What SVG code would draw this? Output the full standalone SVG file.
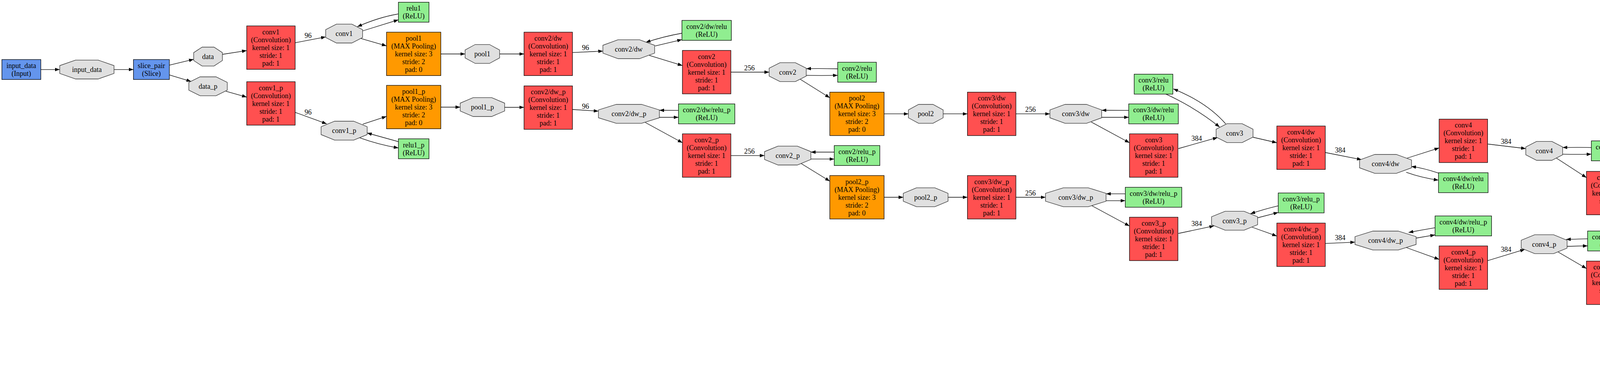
<svg xmlns="http://www.w3.org/2000/svg" width="5525" height="936" viewBox="0 0 5525 936">
<defs>
<style>
.t{font-family:"Liberation Serif","Times New Roman",serif;font-size:18px;text-anchor:middle;fill:#000}
.conv{fill:#FF5050;stroke:#000;stroke-width:1.3}
.pool{fill:#FF9900;stroke:#000;stroke-width:1.3}
.relu{fill:#90EE90;stroke:#000;stroke-width:1.3}
.blue{fill:#6495ED;stroke:#000;stroke-width:1.3}
.blob{fill:#E0E0E0;stroke:#333;stroke-width:1.3}
.out{fill:#fff;stroke:#000;stroke-width:1.3}
.e{fill:none;stroke:#000;stroke-width:1.3;marker-end:url(#ah)}
</style>
<marker id="ah" markerWidth="13" markerHeight="10" refX="12" refY="5" orient="auto" markerUnits="userSpaceOnUse"><path d="M0,0.6 L12,5 L0,9.4 Z" fill="#000"/></marker>
</defs>
<rect width="5525" height="936" fill="#fff"/>

<g id="edges">
<path class="e" d="M104.5,177.8 L152.9,177.8"/>
<path class="e" d="M291.9,177.8 L341.6,177.8"/>
<path class="e" d="M433.6,166.7 L495.8,151.7"/>
<path class="e" d="M433.6,191.7 L489.3,208.3"/>
<path class="e" d="M569.4,139 L631.6,129.3"/>
<path class="e" d="M578.3,233.3 L631.6,248.3"/>
<path class="e" d="M755.6,109.3 L833.9,94.3"/>
<path class="e" d="M755.6,287.3 L836.3,316.7"/>
<path class="e" d="M1019.9,35.7 Q970,44 914.8,68.3"/>
<path class="e" d="M928.5,79 L1019.9,50.7"/>
<path class="e" d="M923.7,98.3 L989.5,117.3"/>
<path class="e" d="M1128.5,138 L1190.6,138"/>
<path class="e" d="M1279,138 L1341.5,138"/>
<path class="e" d="M1465.5,134.3 L1543.5,130.7"/>
<path class="e" d="M1745.7,85 Q1700,93 1653.2,108.3"/>
<path class="e" d="M1677,117.7 L1745.7,101.3"/>
<path class="e" d="M1662.1,141.7 L1747,167.7"/>
<path class="e" d="M928.5,317.7 L989.5,297.7"/>
<path class="e" d="M1019.9,362.3 L939.7,340"/>
<path class="e" d="M920.8,352.3 Q970,370 1019.9,378.3"/>
<path class="e" d="M1128.5,274 L1178.1,274"/>
<path class="e" d="M1291.9,274.5 L1341.5,274.5"/>
<path class="e" d="M1465.5,280 L1532,284.3"/>
<path class="e" d="M1736.9,282.3 L1688,282"/>
<path class="e" d="M1688,300 L1736.9,300"/>
<path class="e" d="M1652,313.3 L1747,365"/>
<path class="e" d="M1871,184.5 L1969,184.5"/>
<path class="e" d="M2144.5,176 Q2100,175 2064,175.7"/>
<path class="e" d="M2064,192.7 Q2100,193.5 2144.5,192.7"/>
<path class="e" d="M2047.9,202.3 L2124.3,250"/>
<path class="e" d="M2263.3,291.2 L2325.5,291.2"/>
<path class="e" d="M2414.5,291.2 L2476.7,291.2"/>
<path class="e" d="M2600.7,291.2 L2687.7,291.2"/>
<path class="e" d="M1871,397.8 L1957.2,397.8"/>
<path class="e" d="M2135.6,389 L2075.8,389"/>
<path class="e" d="M2075.8,406.7 L2135.6,406.7"/>
<path class="e" d="M2050.2,417.7 L2124.3,463.3"/>
<path class="e" d="M2263.3,504.5 L2312.4,504.5"/>
<path class="e" d="M2427,504.5 L2476.7,504.5"/>
<path class="e" d="M2600.7,504.5 L2676.5,504.5"/>
<path class="e" d="M2889.5,282.3 L2820.3,282"/>
<path class="e" d="M2820.3,300 L2889.5,300"/>
<path class="e" d="M2793.1,311.7 L2891.5,365"/>
<path class="e" d="M3016.7,380 L3117,351.7"/>
<path class="e" d="M2984.7,240.7 Q3060,275 3122.3,325"/>
<path class="e" d="M3137.7,316.7 Q3090,262 3003.7,227.3"/>
<path class="e" d="M3207.7,351 L3268.7,365"/>
<path class="e" d="M3392.7,390 L3485.8,408.3"/>
<path class="e" d="M3600.3,405 L3684.2,378.3"/>
<path class="e" d="M3682.5,442.7 Q3645,430 3613,425.7"/>
<path class="e" d="M3600,440.7 Q3640,455 3682.5,460.7"/>
<path class="e" d="M3808.2,368.3 L3906,380"/>
<path class="e" d="M4073.9,377.3 Q4040,376.5 4000.4,377.3"/>
<path class="e" d="M4000.4,394.3 Q4040,395 4073.9,394.3"/>
<path class="e" d="M3984.3,404.3 L4061.4,454.3"/>
<path class="e" d="M4185.4,493.8 L4273.2,493.8"/>
<path class="e" d="M4475.4,485 L4405.4,485"/>
<path class="e" d="M4405.4,502.7 L4475.4,502.7"/>
<path class="e" d="M4378.1,514.3 L4477,567.7"/>
<path class="e" d="M2880.7,495.7 L2831.5,495.7"/>
<path class="e" d="M2831.5,513.3 L2880.7,513.3"/>
<path class="e" d="M2794.9,526 L2891.5,578"/>
<path class="e" d="M3016.7,597 L3108,577.7"/>
<path class="e" d="M3272.3,526.3 Q3235,535 3201.2,546.7"/>
<path class="e" d="M3219.5,557 L3272.3,543.3"/>
<path class="e" d="M3205.3,581 L3268.7,603.7"/>
<path class="e" d="M3392.7,622.7 L3468.7,619.3"/>
<path class="e" d="M3673.7,582.3 Q3640,588 3606,594.5"/>
<path class="e" d="M3625,609 L3673.7,600.7"/>
<path class="e" d="M3597,632 L3684.2,663.3"/>
<path class="e" d="M3808.2,666.7 L3903.7,637.7"/>
<path class="e" d="M4064.3,610.7 L4009.2,612.3"/>
<path class="e" d="M4011.7,630 L4064.3,628.7"/>
<path class="e" d="M3988.5,644.3 L4061.4,686.7"/>
<path class="e" d="M4185.4,722.7 L4261.3,722.7"/>
<path class="e" d="M4466.5,713 L4417.3,713"/>
<path class="e" d="M4417.3,730.7 L4466.5,730.7"/>
<path class="e" d="M4379.9,743.7 L4477,796"/>
<path class="e" d="M4601,600.7 L4697.9,600.7"/>
<path class="e" d="M4869.3,592 Q4830,591 4793.5,592"/>
<path class="e" d="M4793.5,608.7 Q4830,610 4869.3,609.3"/>
<path class="e" d="M4782.4,616.7 L4869.3,655.3"/>
<path class="e" d="M4968,677 L5045.8,678"/>
<path class="e" d="M5165.5,696.7 L5250.4,727.7"/>
<path class="e" d="M4983,752.5 L5079.1,752.5"/>
<path class="e" d="M5151.7,752.5 L5247.2,752.5"/>
<path class="e" d="M5398.2,752.5 L5447.9,752.5"/>
<path class="e" d="M4601,828.7 L4686.9,828.7"/>
<path class="e" d="M4860.2,819.7 L4804.7,819.7"/>
<path class="e" d="M4804.7,837 L4860.2,837"/>
<path class="e" d="M4787.6,846.7 L4860.2,879.3"/>
<path class="e" d="M4977.9,886 L5058.9,860.3"/>
<path class="e" d="M5163.5,824.3 L5264.8,778"/>
<text class="t" x="788.8" y="96.7">96</text>
<text class="t" x="788.8" y="292.7">96</text>
<text class="t" x="1499" y="128.3">96</text>
<text class="t" x="1499" y="278.3">96</text>
<text class="t" x="1918.6" y="180">256</text>
<text class="t" x="1918.6" y="393.3">256</text>
<text class="t" x="2638" y="286">256</text>
<text class="t" x="2638" y="500.3">256</text>
<text class="t" x="3063.6" y="360">384</text>
<text class="t" x="3063.6" y="578.3">384</text>
<text class="t" x="3430.7" y="390.3">384</text>
<text class="t" x="3430.7" y="614.3">384</text>
<text class="t" x="3855.6" y="368.3">384</text>
<text class="t" x="3855.6" y="644.3">384</text>
<text class="t" x="4223.3" y="489.3">384</text>
<text class="t" x="4223.3" y="717.7">384</text>
<text class="t" x="4648.4" y="596.3">256</text>
<text class="t" x="4648.4" y="824.3">256</text>
</g>

<g id="input_data_layer"><rect class="blue" x="4.8" y="152.3" width="99.7" height="51"/><text class="t"><tspan x="54.6" y="173.8">input_data</tspan><tspan x="54.6" dy="20">(Input)</tspan></text></g>
<g id="input_data_blob"><polygon class="blob" points="193.6,153.6 251.2,153.6 291.9,167.8 291.9,187.8 251.2,202 193.6,202 152.9,187.8 152.9,167.8"/><text class="t" x="222.4" y="183.8">input_data</text></g>
<g id="slice_pair"><rect class="blue" x="341.6" y="152.3" width="92" height="51"/><text class="t"><tspan x="387.6" y="173.8">slice_pair</tspan><tspan x="387.6" dy="20">(Slice)</tspan></text></g>
<g id="data_blob"><polygon class="blob" points="517.4,120.5 547.8,120.5 569.4,134.7 569.4,154.7 547.8,168.9 517.4,168.9 495.8,154.7 495.8,134.7"/><text class="t" x="532.6" y="150.7">data</text></g>
<g id="data_p_blob"><polygon class="blob" points="512.2,196.5 553,196.5 581.8,210.7 581.8,230.7 553,244.9 512.2,244.9 483.4,230.7 483.4,210.7"/><text class="t" x="532.6" y="226.7">data_p</text></g>

<g id="conv1_layer"><rect class="conv" x="631.6" y="66.3" width="124" height="111"/><text class="t"><tspan x="693.6" y="87.8">conv1</tspan><tspan x="693.6" dy="20">(Convolution)</tspan><tspan x="693.6" dy="20">kernel size: 1</tspan><tspan x="693.6" dy="20">stride: 1</tspan><tspan x="693.6" dy="20">pad: 1</tspan></text></g>
<g id="conv1_p_layer"><rect class="conv" x="631.6" y="209" width="124" height="111"/><text class="t"><tspan x="693.6" y="230.5">conv1_p</tspan><tspan x="693.6" dy="20">(Convolution)</tspan><tspan x="693.6" dy="20">kernel size: 1</tspan><tspan x="693.6" dy="20">stride: 1</tspan><tspan x="693.6" dy="20">pad: 1</tspan></text></g>
<g id="conv1_blob"><polygon class="blob" points="861.4,61.6 900.6,61.6 928.3,75.8 928.3,95.8 900.6,110 861.4,110 833.7,95.8 833.7,75.8"/><text class="t" x="881" y="91.8">conv1</text></g>
<g id="conv1_p_blob"><polygon class="blob" points="856.6,310 905.4,310 940,324.2 940,344.2 905.4,358.4 856.6,358.4 822,344.2 822,324.2"/><text class="t" x="881" y="340.2">conv1_p</text></g>
<g id="relu1"><rect class="relu" x="1019.9" y="5.7" width="78.3" height="51"/><text class="t"><tspan x="1059" y="27.2">relu1</tspan><tspan x="1059" dy="20">(ReLU)</tspan></text></g>
<g id="relu1_p"><rect class="relu" x="1019.9" y="355" width="78.3" height="51"/><text class="t"><tspan x="1059" y="376.5">relu1_p</tspan><tspan x="1059" dy="20">(ReLU)</tspan></text></g>
<g id="pool1_layer"><rect class="pool" x="989.5" y="82.3" width="139" height="111"/><text class="t"><tspan x="1059" y="103.8">pool1</tspan><tspan x="1059" dy="20">(MAX Pooling)</tspan><tspan x="1059" dy="20">kernel size: 3</tspan><tspan x="1059" dy="20">stride: 2</tspan><tspan x="1059" dy="20">pad: 0</tspan></text></g>
<g id="pool1_p_layer"><rect class="pool" x="989.5" y="218.3" width="139" height="111"/><text class="t"><tspan x="1059" y="239.8">pool1_p</tspan><tspan x="1059" dy="20">(MAX Pooling)</tspan><tspan x="1059" dy="20">kernel size: 3</tspan><tspan x="1059" dy="20">stride: 2</tspan><tspan x="1059" dy="20">pad: 0</tspan></text></g>
<g id="pool1_blob"><polygon class="blob" points="1216.5,113.8 1253.1,113.8 1279,128 1279,148 1253.1,162.2 1216.5,162.2 1190.6,148 1190.6,128"/><text class="t" x="1234.8" y="144">pool1</text></g>
<g id="pool1_p_blob"><polygon class="blob" points="1211.4,249.6 1258.6,249.6 1291.9,263.8 1291.9,283.8 1258.6,298 1211.4,298 1178.1,283.8 1178.1,263.8"/><text class="t" x="1235" y="279.8">pool1_p</text></g>

<g id="conv2_dw_layer"><rect class="conv" x="1341.5" y="82.3" width="124" height="111"/><text class="t"><tspan x="1403.5" y="103.8">conv2/dw</tspan><tspan x="1403.5" dy="20">(Convolution)</tspan><tspan x="1403.5" dy="20">kernel size: 1</tspan><tspan x="1403.5" dy="20">stride: 1</tspan><tspan x="1403.5" dy="20">pad: 1</tspan></text></g>
<g id="conv2_dw_p_layer"><rect class="conv" x="1341.5" y="219.7" width="124" height="111"/><text class="t"><tspan x="1403.5" y="241.2">conv2/dw_p</tspan><tspan x="1403.5" dy="20">(Convolution)</tspan><tspan x="1403.5" dy="20">kernel size: 1</tspan><tspan x="1403.5" dy="20">stride: 1</tspan><tspan x="1403.5" dy="20">pad: 1</tspan></text></g>
<g id="conv2_dw_blob"><polygon class="blob" points="1582.2,101.6 1637,101.6 1675.8,115.8 1675.8,135.8 1637,150 1582.2,150 1543.4,135.8 1543.4,115.8"/><text class="t" x="1609.6" y="131.8">conv2/dw</text></g>
<g id="conv2_dw_p_blob"><polygon class="blob" points="1577.7,267 1642.3,267 1688,281.2 1688,301.2 1642.3,315.4 1577.7,315.4 1532,301.2 1532,281.2"/><text class="t" x="1610" y="297.2">conv2/dw_p</text></g>
<g id="conv2_dw_relu"><rect class="relu" x="1745.7" y="52.2" width="126.6" height="51"/><text class="t"><tspan x="1809" y="73.7">conv2/dw/relu</tspan><tspan x="1809" dy="20">(ReLU)</tspan></text></g>
<g id="conv2_dw_relu_p"><rect class="relu" x="1736.9" y="265.7" width="144.3" height="51"/><text class="t"><tspan x="1809" y="287.2">conv2/dw/relu_p</tspan><tspan x="1809" dy="20">(ReLU)</tspan></text></g>
<g id="conv2_layer"><rect class="conv" x="1747" y="129" width="124" height="111"/><text class="t"><tspan x="1809" y="150.5">conv2</tspan><tspan x="1809" dy="20">(Convolution)</tspan><tspan x="1809" dy="20">kernel size: 1</tspan><tspan x="1809" dy="20">stride: 1</tspan><tspan x="1809" dy="20">pad: 1</tspan></text></g>
<g id="conv2_p_layer"><rect class="conv" x="1747" y="342.3" width="124" height="111"/><text class="t"><tspan x="1809" y="363.8">conv2_p</tspan><tspan x="1809" dy="20">(Convolution)</tspan><tspan x="1809" dy="20">kernel size: 1</tspan><tspan x="1809" dy="20">stride: 1</tspan><tspan x="1809" dy="20">pad: 1</tspan></text></g>
<g id="conv2_blob"><polygon class="blob" points="1996.8,160.3 2036.2,160.3 2064,174.5 2064,194.5 2036.2,208.7 1996.8,208.7 1969,194.5 1969,174.5"/><text class="t" x="2016.5" y="190.5">conv2</text></g>
<g id="conv2_p_blob"><polygon class="blob" points="1991.9,373.6 2041.1,373.6 2075.8,387.8 2075.8,407.8 2041.1,422 1991.9,422 1957.2,407.8 1957.2,387.8"/><text class="t" x="2016.5" y="403.8">conv2_p</text></g>
<g id="conv2_relu"><rect class="relu" x="2144.5" y="159.2" width="99" height="51"/><text class="t"><tspan x="2194" y="180.7">conv2/relu</tspan><tspan x="2194" dy="20">(ReLU)</tspan></text></g>
<g id="conv2_relu_p"><rect class="relu" x="2135.6" y="372.3" width="116.8" height="51"/><text class="t"><tspan x="2194" y="393.8">conv2/relu_p</tspan><tspan x="2194" dy="20">(ReLU)</tspan></text></g>
<g id="pool2_layer"><rect class="pool" x="2124.3" y="235.7" width="139" height="111"/><text class="t"><tspan x="2193.8" y="257.2">pool2</tspan><tspan x="2193.8" dy="20">(MAX Pooling)</tspan><tspan x="2193.8" dy="20">kernel size: 3</tspan><tspan x="2193.8" dy="20">stride: 2</tspan><tspan x="2193.8" dy="20">pad: 0</tspan></text></g>
<g id="pool2_p_layer"><rect class="pool" x="2124.3" y="449" width="139" height="111"/><text class="t"><tspan x="2193.8" y="470.5">pool2_p</tspan><tspan x="2193.8" dy="20">(MAX Pooling)</tspan><tspan x="2193.8" dy="20">kernel size: 3</tspan><tspan x="2193.8" dy="20">stride: 2</tspan><tspan x="2193.8" dy="20">pad: 0</tspan></text></g>
<g id="pool2_blob"><polygon class="blob" points="2351.6,267 2388.4,267 2414.5,281.2 2414.5,301.2 2388.4,315.4 2351.6,315.4 2325.5,301.2 2325.5,281.2"/><text class="t" x="2370" y="297.2">pool2</text></g>
<g id="pool2_p_blob"><polygon class="blob" points="2346,480.3 2393.4,480.3 2427,494.5 2427,514.5 2393.4,528.7 2346,528.7 2312.4,514.5 2312.4,494.5"/><text class="t" x="2369.7" y="510.5">pool2_p</text></g>

<g id="conv3_dw_layer"><rect class="conv" x="2476.7" y="235.7" width="124" height="111"/><text class="t"><tspan x="2538.7" y="257.2">conv3/dw</tspan><tspan x="2538.7" dy="20">(Convolution)</tspan><tspan x="2538.7" dy="20">kernel size: 1</tspan><tspan x="2538.7" dy="20">stride: 1</tspan><tspan x="2538.7" dy="20">pad: 1</tspan></text></g>
<g id="conv3_dw_p_layer"><rect class="conv" x="2476.7" y="449" width="124" height="111"/><text class="t"><tspan x="2538.7" y="470.5">conv3/dw_p</tspan><tspan x="2538.7" dy="20">(Convolution)</tspan><tspan x="2538.7" dy="20">kernel size: 1</tspan><tspan x="2538.7" dy="20">stride: 1</tspan><tspan x="2538.7" dy="20">pad: 1</tspan></text></g>
<g id="conv3_dw_blob"><polygon class="blob" points="2726.6,267 2781.4,267 2820.3,281.2 2820.3,301.2 2781.4,315.4 2726.6,315.4 2687.7,301.2 2687.7,281.2"/><text class="t" x="2754" y="297.2">conv3/dw</text></g>
<g id="conv3_dw_p_blob"><polygon class="blob" points="2721.9,480.3 2786.1,480.3 2831.5,494.5 2831.5,514.5 2786.1,528.7 2721.9,528.7 2676.5,514.5 2676.5,494.5"/><text class="t" x="2754" y="510.5">conv3/dw_p</text></g>
<g id="conv3_relu"><rect class="relu" x="2903.5" y="189.7" width="99" height="51"/><text class="t"><tspan x="2953" y="211.2">conv3/relu</tspan><tspan x="2953" dy="20">(ReLU)</tspan></text></g>
<g id="conv3_dw_relu"><rect class="relu" x="2889.5" y="265.7" width="127" height="51"/><text class="t"><tspan x="2953" y="287.2">conv3/dw/relu</tspan><tspan x="2953" dy="20">(ReLU)</tspan></text></g>
<g id="conv3_dw_relu_p"><rect class="relu" x="2880.7" y="479" width="144.7" height="51"/><text class="t"><tspan x="2953" y="500.5">conv3/dw/relu_p</tspan><tspan x="2953" dy="20">(ReLU)</tspan></text></g>
<g id="conv3_layer"><rect class="conv" x="2891.5" y="342.3" width="124" height="111"/><text class="t"><tspan x="2953.5" y="363.8">conv3</tspan><tspan x="2953.5" dy="20">(Convolution)</tspan><tspan x="2953.5" dy="20">kernel size: 1</tspan><tspan x="2953.5" dy="20">stride: 1</tspan><tspan x="2953.5" dy="20">pad: 1</tspan></text></g>
<g id="conv3_p_layer"><rect class="conv" x="2891.5" y="555.5" width="124" height="111"/><text class="t"><tspan x="2953.5" y="577">conv3_p</tspan><tspan x="2953.5" dy="20">(Convolution)</tspan><tspan x="2953.5" dy="20">kernel size: 1</tspan><tspan x="2953.5" dy="20">stride: 1</tspan><tspan x="2953.5" dy="20">pad: 1</tspan></text></g>
<g id="conv3_blob"><polygon class="blob" points="3141,316.3 3180,316.3 3207.7,330.5 3207.7,350.5 3180,364.7 3141,364.7 3113.3,350.5 3113.3,330.5"/><text class="t" x="3160.5" y="346.5">conv3</text></g>
<g id="conv3_p_blob"><polygon class="blob" points="3136.1,540.3 3184.9,540.3 3219.5,554.5 3219.5,574.5 3184.9,588.7 3136.1,588.7 3101.5,574.5 3101.5,554.5"/><text class="t" x="3160.5" y="570.5">conv3_p</text></g>
<g id="conv3_relu_p"><rect class="relu" x="3272.3" y="493.5" width="117.4" height="51"/><text class="t"><tspan x="3331" y="515">conv3/relu_p</tspan><tspan x="3331" dy="20">(ReLU)</tspan></text></g>

<g id="conv4_dw_layer"><rect class="conv" x="3268.7" y="322.3" width="124" height="111"/><text class="t"><tspan x="3330.7" y="343.8">conv4/dw</tspan><tspan x="3330.7" dy="20">(Convolution)</tspan><tspan x="3330.7" dy="20">kernel size: 1</tspan><tspan x="3330.7" dy="20">stride: 1</tspan><tspan x="3330.7" dy="20">pad: 1</tspan></text></g>
<g id="conv4_dw_p_layer"><rect class="conv" x="3268.7" y="570.5" width="124" height="111"/><text class="t"><tspan x="3330.7" y="592">conv4/dw_p</tspan><tspan x="3330.7" dy="20">(Convolution)</tspan><tspan x="3330.7" dy="20">kernel size: 1</tspan><tspan x="3330.7" dy="20">stride: 1</tspan><tspan x="3330.7" dy="20">pad: 1</tspan></text></g>
<g id="conv4_dw_blob"><polygon class="blob" points="3519.5,395 3574.5,395 3613.5,409.2 3613.5,429.2 3574.5,443.4 3519.5,443.4 3480.5,429.2 3480.5,409.2"/><text class="t" x="3547" y="425.2">conv4/dw</text></g>
<g id="conv4_dw_p_blob"><polygon class="blob" points="3514.6,591 3579.4,591 3625.3,605.2 3625.3,625.2 3579.4,639.4 3514.6,639.4 3468.7,625.2 3468.7,605.2"/><text class="t" x="3547" y="621.2">conv4/dw_p</text></g>
<g id="conv4_layer"><rect class="conv" x="3684.2" y="304.7" width="124" height="111"/><text class="t"><tspan x="3746.2" y="326.2">conv4</tspan><tspan x="3746.2" dy="20">(Convolution)</tspan><tspan x="3746.2" dy="20">kernel size: 1</tspan><tspan x="3746.2" dy="20">stride: 1</tspan><tspan x="3746.2" dy="20">pad: 1</tspan></text></g>
<g id="conv4_p_layer"><rect class="conv" x="3684.2" y="629" width="124" height="111"/><text class="t"><tspan x="3746.2" y="650.5">conv4_p</tspan><tspan x="3746.2" dy="20">(Convolution)</tspan><tspan x="3746.2" dy="20">kernel size: 1</tspan><tspan x="3746.2" dy="20">stride: 1</tspan><tspan x="3746.2" dy="20">pad: 1</tspan></text></g>
<g id="conv4_dw_relu"><rect class="relu" x="3682.5" y="441.7" width="127" height="51"/><text class="t"><tspan x="3746" y="463.2">conv4/dw/relu</tspan><tspan x="3746" dy="20">(ReLU)</tspan></text></g>
<g id="conv4_dw_relu_p"><rect class="relu" x="3673.7" y="552.3" width="144.7" height="51"/><text class="t"><tspan x="3746" y="573.8">conv4/dw/relu_p</tspan><tspan x="3746" dy="20">(ReLU)</tspan></text></g>
<g id="conv4_blob"><polygon class="blob" points="3933.7,361.6 3972.7,361.6 4000.4,375.8 4000.4,395.8 3972.7,410 3933.7,410 3906,395.8 3906,375.8"/><text class="t" x="3953.2" y="391.8">conv4</text></g>
<g id="conv4_p_blob"><polygon class="blob" points="3928.7,600.3 3977.3,600.3 4011.7,614.5 4011.7,634.5 3977.3,648.7 3928.7,648.7 3894.3,634.5 3894.3,614.5"/><text class="t" x="3953" y="630.5">conv4_p</text></g>
<g id="conv4_relu"><rect class="relu" x="4073.9" y="360.3" width="99" height="51"/><text class="t"><tspan x="4123.4" y="381.8">conv4/relu</tspan><tspan x="4123.4" dy="20">(ReLU)</tspan></text></g>
<g id="conv4_relu_p"><rect class="relu" x="4064.3" y="590.8" width="117.4" height="51"/><text class="t"><tspan x="4123" y="612.3">conv4/relu_p</tspan><tspan x="4123" dy="20">(ReLU)</tspan></text></g>

<g id="conv5_dw_layer"><rect class="conv" x="4061.4" y="438.3" width="124" height="111"/><text class="t"><tspan x="4123.4" y="459.8">conv5/dw</tspan><tspan x="4123.4" dy="20">(Convolution)</tspan><tspan x="4123.4" dy="20">kernel size: 1</tspan><tspan x="4123.4" dy="20">stride: 1</tspan><tspan x="4123.4" dy="20">pad: 1</tspan></text></g>
<g id="conv5_dw_p_layer"><rect class="conv" x="4061.4" y="667.7" width="124" height="111"/><text class="t"><tspan x="4123.4" y="689.2">conv5/dw_p</tspan><tspan x="4123.4" dy="20">(Convolution)</tspan><tspan x="4123.4" dy="20">kernel size: 1</tspan><tspan x="4123.4" dy="20">stride: 1</tspan><tspan x="4123.4" dy="20">pad: 1</tspan></text></g>
<g id="conv5_dw_blob"><polygon class="blob" points="4311.9,469.6 4366.7,469.6 4405.4,483.8 4405.4,503.8 4366.7,518 4311.9,518 4273.2,503.8 4273.2,483.8"/><text class="t" x="4339.3" y="499.8">conv5/dw</text></g>
<g id="conv5_dw_p_blob"><polygon class="blob" points="4307,697.6 4371.6,697.6 4417.3,711.8 4417.3,731.8 4371.6,746 4307,746 4261.3,731.8 4261.3,711.8"/><text class="t" x="4339.3" y="727.8">conv5/dw_p</text></g>
<g id="conv5_dw_relu"><rect class="relu" x="4475.4" y="468.5" width="127.2" height="51"/><text class="t"><tspan x="4539" y="490">conv5/dw/relu</tspan><tspan x="4539" dy="20">(ReLU)</tspan></text></g>
<g id="conv5_dw_relu_p"><rect class="relu" x="4466.5" y="696.3" width="144" height="51"/><text class="t"><tspan x="4538.5" y="717.8">conv5/dw/relu_p</tspan><tspan x="4538.5" dy="20">(ReLU)</tspan></text></g>
<g id="conv5_layer"><rect class="conv" x="4477" y="545" width="124" height="111"/><text class="t"><tspan x="4539" y="566.5">conv5</tspan><tspan x="4539" dy="20">(Convolution)</tspan><tspan x="4539" dy="20">kernel size: 1</tspan><tspan x="4539" dy="20">stride: 1</tspan><tspan x="4539" dy="20">pad: 1</tspan></text></g>
<g id="conv5_p_layer"><rect class="conv" x="4477" y="773" width="124" height="111"/><text class="t"><tspan x="4539" y="794.5">conv5_p</tspan><tspan x="4539" dy="20">(Convolution)</tspan><tspan x="4539" dy="20">kernel size: 1</tspan><tspan x="4539" dy="20">stride: 1</tspan><tspan x="4539" dy="20">pad: 1</tspan></text></g>
<g id="conv5_blob"><polygon class="blob" points="4725.9,576.3 4765.5,576.3 4793.5,590.5 4793.5,610.5 4765.5,624.7 4725.9,624.7 4697.9,610.5 4697.9,590.5"/><text class="t" x="4745.7" y="606.5">conv5</text></g>
<g id="conv5_p_blob"><polygon class="blob" points="4721.4,804.3 4770.2,804.3 4804.7,818.5 4804.7,838.5 4770.2,852.7 4721.4,852.7 4686.9,838.5 4686.9,818.5"/><text class="t" x="4745.8" y="834.5">conv5_p</text></g>
<g id="conv5_relu"><rect class="relu" x="4869.3" y="574.8" width="98.7" height="51"/><text class="t"><tspan x="4918.6" y="596.3">conv5/relu</tspan><tspan x="4918.6" dy="20">(ReLU)</tspan></text></g>
<g id="conv5_relu_p"><rect class="relu" x="4860.2" y="802.8" width="117.7" height="51"/><text class="t"><tspan x="4919" y="824.3">conv5/relu_p</tspan><tspan x="4919" dy="20">(ReLU)</tspan></text></g>
<g id="conv5_flat_layer"><rect class="blue" x="4869.3" y="651.3" width="98.7" height="51"/><text class="t"><tspan x="4918.6" y="672.8">conv5_flat</tspan><tspan x="4918.6" dy="20">(Flatten)</tspan></text></g>
<g id="conv5_flat_p_layer"><rect class="blue" x="4860.2" y="879" width="117.7" height="51"/><text class="t"><tspan x="4919" y="900.5">conv5_flat_p</tspan><tspan x="4919" dy="20">(Flatten)</tspan></text></g>
<g id="sim_layer"><rect class="blue" x="4854.2" y="727" width="128.8" height="51"/><text class="t"><tspan x="4918.6" y="748.5">sim</tspan><tspan x="4918.6" dy="20">(DummyData)</tspan></text></g>
<g id="conv5_flat_blob"><polygon class="blob" points="5086.6,655 5144.2,655 5185,669.2 5185,689.2 5144.2,703.4 5086.6,703.4 5045.8,689.2 5045.8,669.2"/><text class="t" x="5115.4" y="685.2">conv5_flat</text></g>
<g id="conv5_flat_p_blob"><polygon class="blob" points="5081.1,820.3 5149.3,820.3 5197.6,834.5 5197.6,854.5 5149.3,868.7 5081.1,868.7 5032.8,854.5 5032.8,834.5"/><text class="t" x="5115.2" y="850.5">conv5_flat_p</text></g>
<g id="sim_blob"><polygon class="blob" points="5100.4,728.3 5130.4,728.3 5151.7,742.5 5151.7,762.5 5130.4,776.7 5100.4,776.7 5079.1,762.5 5079.1,742.5"/><text class="t" x="5115.4" y="758.5">sim</text></g>
<g id="loss_layer"><rect class="blue" x="5247.2" y="727" width="151" height="51"/><text class="t"><tspan x="5322.7" y="748.5">loss</tspan><tspan x="5322.7" dy="20">(ContrastiveLoss)</tspan></text></g>
<g id="loss_blob"><ellipse class="out" cx="5483.2" cy="752.5" rx="35.3" ry="24.2"/><text class="t" x="5483.2" y="758.5">loss</text></g>
</svg>
